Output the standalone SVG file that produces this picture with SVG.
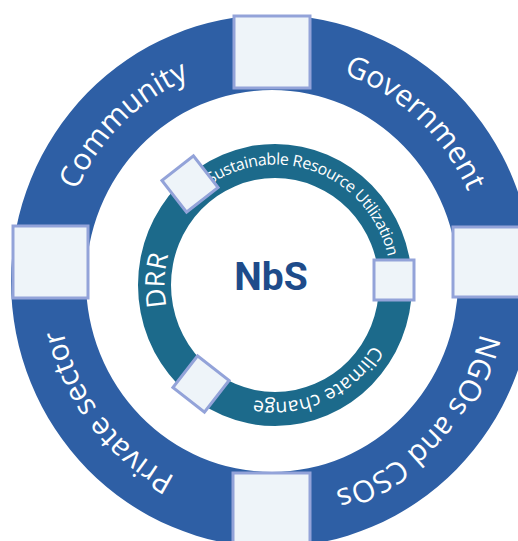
<svg xmlns="http://www.w3.org/2000/svg" xmlns:xlink="http://www.w3.org/1999/xlink" width="518" height="541" viewBox="0 0 518 541">
  <style>
    .outer-band { fill: #2e5fa5; fill-rule: evenodd; }
    .inner-band { fill: #1c6a8b; fill-rule: evenodd; }
    .slot { fill: #eef4f9; stroke: #93a3d9; stroke-width: 3; }
    .ring-label { font-family: "Open Sans", "Liberation Sans", sans-serif; fill: #ffffff; }
    .outer-label { font-size: 30px; }
    .core { font-family: Roboto, "Liberation Sans", sans-serif; font-weight: 700; font-size: 39px; fill: #1e4b8a; }
  </style>
  <defs>
    <!-- label baselines, each traced clockwise from the rightmost point -->
    <path id="outerBase" d="M 486.5,281 A 214.5 219.5 0 1 1 57.5,281 A 214.5 219.5 0 1 1 486.5,281"/>
    <path id="innerBaseSmall" d="M 391,284 A 116 119.5 0 1 1 159,284 A 116 119.5 0 1 1 391,284"/>
    <path id="innerBaseMid" d="M 388.5,285 A 113.5 117 0 1 1 161.5,285 A 113.5 117 0 1 1 388.5,285"/>
    <path id="innerBaseLarge" d="M 385.5,285 A 110.5 114 0 1 1 164.5,285 A 110.5 114 0 1 1 385.5,285"/>
  </defs>

  <rect width="518" height="541" fill="#ffffff"/>

  <!-- outer ring of stakeholders -->
  <g id="stakeholder-ring">
    <path class="outer-band" d="M 533,281 A 261 266 0 1 1 11,281 A 261 266 0 1 1 533,281 Z M 458,281 A 186 191 0 1 0 86,281 A 186 191 0 1 0 458,281 Z"/>
  </g>
  <g id="community">
    <text class="ring-label outer-label" text-anchor="middle"><textPath xlink:href="#outerBase" startOffset="62.8%">Community</textPath></text>
  </g>
  <g id="government">
    <text class="ring-label outer-label" text-anchor="middle"><textPath xlink:href="#outerBase" startOffset="86.8%">Government</textPath></text>
  </g>
  <g id="ngos-csos">
    <text class="ring-label outer-label" text-anchor="middle"><textPath xlink:href="#outerBase" startOffset="12.1%">NGOs and CSOs</textPath></text>
  </g>
  <g id="private-sector">
    <text class="ring-label outer-label" text-anchor="middle"><textPath xlink:href="#outerBase" startOffset="39.4%">Private sector</textPath></text>
  </g>
  <g id="outer-slots">
    <rect class="slot" x="234" y="16" width="76" height="72"/>
    <rect class="slot" x="13" y="226" width="75" height="72"/>
    <rect class="slot" x="453" y="227" width="76" height="70"/>
    <rect class="slot" x="233" y="473" width="77" height="74"/>
  </g>

  <!-- inner ring of themes -->
  <g id="theme-ring">
    <path class="inner-band" d="M 412,285 A 137 141 0 1 1 138,285 A 137 141 0 1 1 412,285 Z M 379,285 A 104 107 0 1 0 171,285 A 104 107 0 1 0 379,285 Z"/>
  </g>
  <g id="sustainable-resource-utilization">
    <text class="ring-label" font-size="16" text-anchor="middle"><textPath xlink:href="#innerBaseSmall" startOffset="81.0%" textLength="226" lengthAdjust="spacing">Sustainable Resource Utilization</textPath></text>
  </g>
  <g id="climate-change">
    <text class="ring-label" font-size="19.5" text-anchor="middle"><textPath xlink:href="#innerBaseMid" startOffset="18.3%">Climate change</textPath></text>
  </g>
  <g id="drr">
    <text class="ring-label" font-size="27" text-anchor="middle"><textPath xlink:href="#innerBaseLarge" startOffset="50.6%">DRR</textPath></text>
  </g>
  <g id="inner-slots">
    <rect class="slot" x="374" y="260" width="40" height="40"/>
    <rect class="slot" x="-20" y="-20" width="40" height="40" transform="translate(190 184) rotate(-38)"/>
    <rect class="slot" x="-20" y="-20" width="40" height="40" transform="translate(201 384) rotate(38)"/>
  </g>

  <!-- centre -->
  <g id="nbs">
    <text class="core" x="271" y="290" text-anchor="middle">NbS</text>
  </g>
</svg>
